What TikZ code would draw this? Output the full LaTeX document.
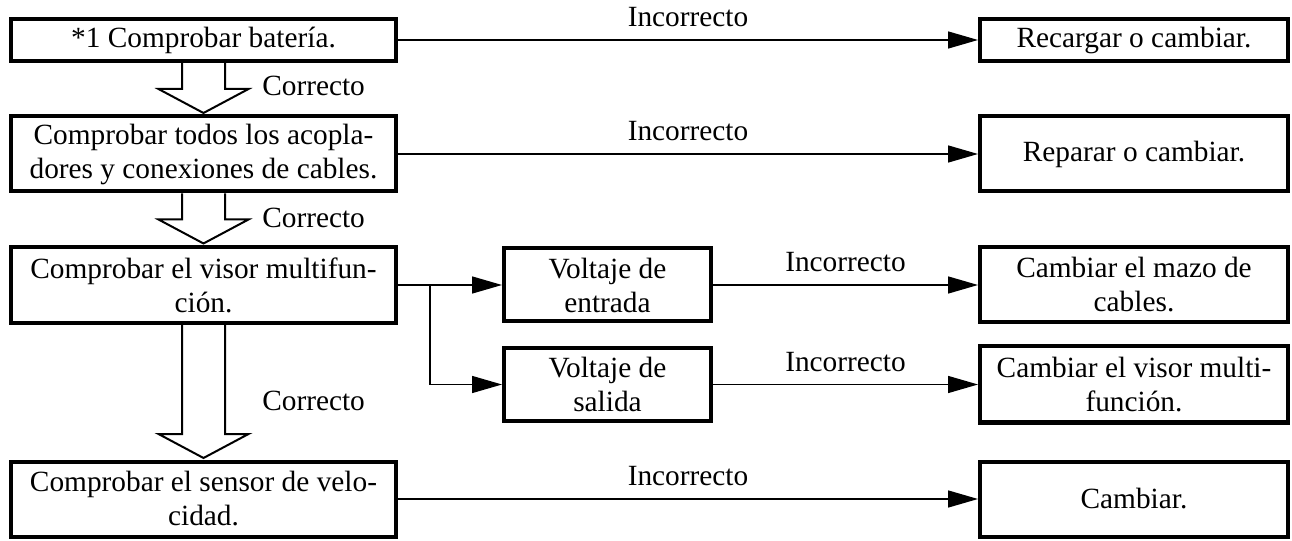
\documentclass[tikz,border=0pt]{standalone}
\usepackage{fontspec}
\setmainfont{Liberation Serif}
\usetikzlibrary{arrows.meta,calc}
\begin{document}
\begin{tikzpicture}[x=0.75pt,y=-0.75pt,
  box/.style={draw,line width=3pt,inner sep=0pt,align=center,
    font=\fontsize{22}{25.5}\selectfont},
  lbox/.style={box,minimum width=288.75pt,minimum height=#1},
  mbox/.style={box,minimum width=155.25pt,minimum height=#1},
  rbox/.style={box,minimum width=231pt,minimum height=#1},
  conn/.style={line width=1.1pt,-{Triangle[length=22.5pt,width=12.75pt]}},
  lab/.style={font=\fontsize{22}{25.5}\selectfont,inner sep=0pt},
  hollow/.style={line width=1.5pt,line join=miter}]
\useasboundingbox (0,0) rectangle (1292,541);
% left column
\node[lbox=31.5pt] (b1) at (203.5,40) {*1 Comprobar batería.};
\node[lbox=56.25pt] (b2) at (203.5,154) {Comprobar todos los acopla-\\dores y conexiones de cables.};
\node[lbox=57pt] (b3) at (203.5,285) {Comprobar el visor multifun-\\ción.};
\node[lbox=56.25pt] (b4) at (203.5,499) {Comprobar el sensor de velo-\\cidad.};
% middle column
\node[mbox=54.75pt] (v1) at (607.5,285) {Voltaje de\\entrada};
\node[mbox=54.75pt] (v2) at (607.5,384.5) {Voltaje de\\salida};
% right column
\node[rbox=31.5pt] (r1) at (1134,40) {Recargar o cambiar.};
\node[rbox=56.25pt] (r2) at (1134,154) {Reparar o cambiar.};
\node[rbox=56.25pt] (r3) at (1134,285) {Cambiar el mazo de\\cables.};
\node[rbox=57pt] (r4) at (1134,384.5) {Cambiar el visor multi-\\función.};
\node[rbox=56.25pt] (r5) at (1134,499) {Cambiar.};
% hollow arrows
\foreach \s/\t in {b1/b2,b2/b3,b3/b4}{
  \path (\t.north) ++(0,-1.5) coordinate (tip);
  \draw[hollow] ($(\s.south)+(-21.5,0)$) -- ($(tip)+(-21.5,-24)$) -- ($(tip)+(-45,-24)$)
    -- (tip) -- ($(tip)+(45,-24)$) -- ($(tip)+(21.5,-24)$) -- ($(\s.south)+(21.5,0)$);
}
\node[lab,anchor=west] (c1) at (262,86) {Correcto};
\node[lab,anchor=west] (c2) at (262,218) {Correcto};
\node[lab,anchor=west] (c3) at (262,401) {Correcto};
% connectors
\draw[conn] (b1.east) -- node[lab,above=9pt] (i1) {Incorrecto} (r1.west);
\draw[conn] (b2.east) -- node[lab,above=9pt] (i2) {Incorrecto} (r2.west);
\draw[conn] (b3.east) -- (v1.west);
\coordinate (br) at (430,285);
\draw[conn] (br) |- (v2.west);
\draw[conn] (v1.east) -- node[lab,above=9pt] (i3) {Incorrecto} (r3.west);
\draw[conn] (v2.east) -- node[lab,above=9pt] (i4) {Incorrecto} (r4.west);
\draw[conn] (b4.east) -- node[lab,above=9pt] (i5) {Incorrecto} (r5.west);
\end{tikzpicture}
\end{document}
